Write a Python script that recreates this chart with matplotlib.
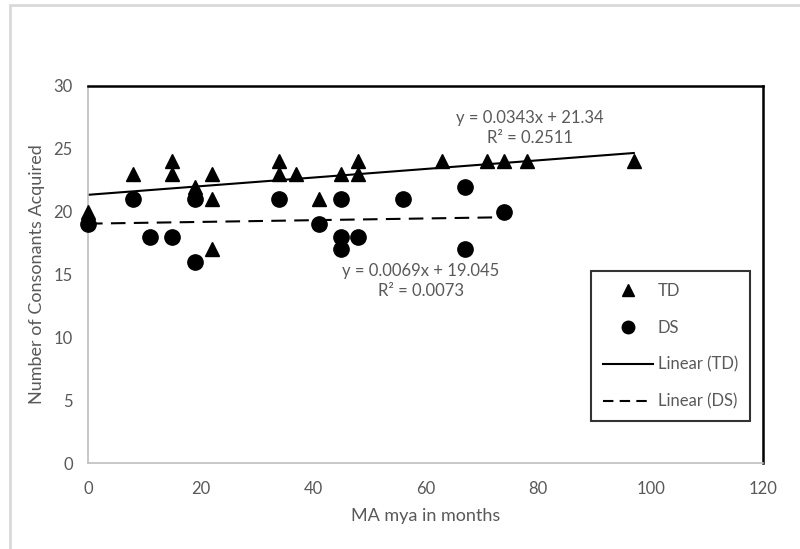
import numpy as np
import matplotlib.pyplot as plt
from matplotlib.patches import Rectangle
from matplotlib.lines import Line2D

TEXT_GRAY = '#595959'
AXIS_GRAY = '#BFBFBF'
BORDER_GRAY = '#D9D9D9'

plt.rcParams.update({
    'font.family': ['Lato', 'DejaVu Sans'],
    'text.color': TEXT_GRAY,
})

# TD group (typically developing)
td_x = [0, 8, 15, 15, 19, 22, 22, 22, 34, 34, 37, 41, 45, 48, 48, 63, 71, 74, 78, 97]
td_y = [20, 23, 24, 23, 22, 23, 21, 17, 24, 23, 23, 21, 23, 24, 23, 24, 24, 24, 24, 24]

# DS group
ds_x = [0, 8, 11, 15, 19, 19, 34, 41, 45, 45, 45, 48, 56, 67, 67, 74]
ds_y = [19, 21, 18, 18, 21, 16, 21, 19, 21, 18, 17, 18, 21, 22, 17, 20]

# trendline coefficients as printed on the chart
td_slope, td_icpt = 0.0343, 21.34
ds_slope, ds_icpt = 0.0069, 19.045

fig = plt.figure(figsize=(8, 5.49), dpi=100)
ax = fig.add_axes([0.11, 0.1566, 0.844, 0.6868])

# outer chart border
fig.patches.append(Rectangle((0.012, -0.05), 1.2, 1.04, transform=fig.transFigure,
                             fill=False, edgecolor=BORDER_GRAY, lw=2, zorder=0))

ax.plot(td_x, td_y, linestyle='none', marker='^', ms=10, color='black', zorder=3, clip_on=False)
ax.plot(ds_x, ds_y, linestyle='none', marker='o', ms=11, color='black', zorder=3, clip_on=False)

tx = np.array([min(td_x), max(td_x)])
ax.plot(tx, td_slope * tx + td_icpt, color='black', lw=1.5, zorder=2)
dx = np.array([min(ds_x), max(ds_x)])
ax.plot(dx, ds_slope * dx + ds_icpt, color='black', lw=1.5, dashes=(7, 4), zorder=2)

ax.text(78.6, 26.65, f'y = {td_slope}x + {td_icpt}\nR² = 0.2511', ha='center', va='center',
        fontsize=12, color=TEXT_GRAY, linespacing=1.3)
ax.text(59.2, 14.45, f'y = {ds_slope}x + {ds_icpt}\nR² = 0.0073', ha='center', va='center',
        fontsize=12, color=TEXT_GRAY, linespacing=1.3)

ax.set_xlim(0, 120)
ax.set_ylim(0, 30)
ax.set_xticks(range(0, 121, 20))
ax.set_yticks(range(0, 31, 5))
ax.tick_params(length=0, labelsize=12, labelcolor=TEXT_GRAY)
ax.tick_params(axis='x', pad=13)
ax.tick_params(axis='y', pad=11)

for s in ('left', 'bottom'):
    ax.spines[s].set_color(AXIS_GRAY)
    ax.spines[s].set_linewidth(1.2)
for s in ('top', 'right'):
    ax.spines[s].set_color('black')
    ax.spines[s].set_linewidth(1.8)

ax.set_xlabel('MA mya in months', fontsize=13, color=TEXT_GRAY, labelpad=8)
ax.set_ylabel('Number of Consonants Acquired', fontsize=13, color=TEXT_GRAY, labelpad=6)

handles = [
    Line2D([], [], linestyle='none', marker='^', ms=9, color='black'),
    Line2D([], [], linestyle='none', marker='o', ms=9, color='black'),
    Line2D([], [], color='black', lw=1.5),
    Line2D([], [], color='black', lw=1.5, dashes=(5, 3)),
]
leg = ax.legend(handles, ['TD', 'DS', 'Linear (TD)', 'Linear (DS)'],
                loc='upper left', bbox_to_anchor=(0.745, 0.509),
                fontsize=12, frameon=True, fancybox=False, edgecolor='black',
                labelspacing=1.25, handlelength=3.0, handletextpad=0.3,
                borderpad=0.7, borderaxespad=0)
leg.get_frame().set_linewidth(1.5)
for t in leg.get_texts():
    t.set_color(TEXT_GRAY)

plt.savefig('out.png', dpi=100, facecolor='white')
plt.close()
